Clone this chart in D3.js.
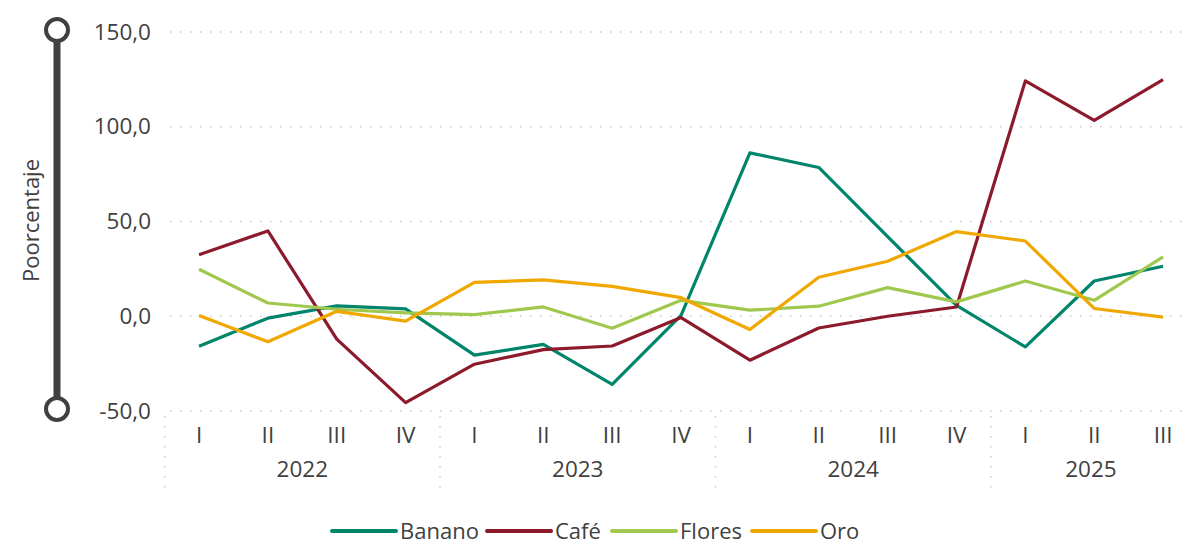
<!DOCTYPE html>
<html>
<head>
<meta charset="utf-8">
<script src="https://cdn.jsdelivr.net/npm/d3@7"></script>
<style>
  body { margin: 0; background: #fff; }
  text { font-family: "Open Sans", "Noto Sans", sans-serif; fill: #404040; }
</style>
</head>
<body>
<svg id="main" width="1186" height="543"></svg>
<script>
var years = ["2022", "2023", "2024", "2025"];
var quarters = ["I", "II", "III", "IV"];
var periods = [
  "2022-I","2022-II","2022-III","2022-IV",
  "2023-I","2023-II","2023-III","2023-IV",
  "2024-I","2024-II","2024-III","2024-IV",
  "2025-I","2025-II","2025-III"
];
var banano = [-15.8, -1.0, 5.5, 3.9, -20.5, -14.8, -36.0, 0.5, 86.2, 78.5, 42.0, 5.8, -16.2, 18.6, 26.4];
var cafe   = [32.5, 45.0, -12.1, -45.6, -25.3, -17.6, -15.7, -0.7, -23.2, -6.2, 0.0, 4.9, 124.2, 103.4, 124.9];
var flores = [24.8, 7.0, 3.7, 1.8, 0.9, 4.9, -6.3, 8.4, 3.2, 5.3, 15.1, 7.6, 18.6, 8.4, 31.3];
var oro    = [0.4, -13.5, 2.6, -2.6, 17.9, 19.2, 15.8, 9.8, -7.0, 20.6, 29.0, 44.7, 39.7, 4.1, -0.5];
var yTicks = [-50, 0, 50, 100, 150];

var series = [
  {name: "Banano", values: banano, color: "#00856a"},
  {name: "Café", values: cafe, color: "#8c1a2b"},
  {name: "Flores", values: flores, color: "#a0c84e"},
  {name: "Oro", values: oro, color: "#f0a800"}
];

var svg = d3.select("#main");
var fs = "22.5px";

var x = d3.scaleBand().domain(periods).range([164.6, 164.6 + 15 * 68.86]);
var y = d3.scaleLinear().domain([-50, 150]).range([411, 32]);
var fmt = function(v){ return d3.format(".1f")(v).replace(".", ",").replace("\u2212", "-"); };

// gridlines
svg.append("g").selectAll("line").data(yTicks).enter().append("line")
  .attr("x1", 170).attr("x2", 1182)
  .attr("y1", d => y(d)).attr("y2", d => y(d))
  .attr("stroke", "#c8c8c8").attr("stroke-width", 1.5)
  .attr("stroke-dasharray", "1.5 8.5");

// y labels
var yAxis = d3.axisLeft(y).tickValues(yTicks).tickFormat(fmt).tickSize(0).tickPadding(0);
var yg = svg.append("g").attr("transform", "translate(151,0)").call(yAxis);
yg.select(".domain").remove();
yg.selectAll("text").style("font-size", fs).attr("fill", "#404040")
  .style("font-family", '"Open Sans", "Noto Sans", sans-serif');

// decorative axis bar
svg.append("line").attr("x1", 57).attr("x2", 57).attr("y1", y(150) + 10).attr("y2", y(-50) - 10)
  .attr("stroke", "#404040").attr("stroke-width", 7);
svg.selectAll("circle.end").data([150, -50]).enter().append("circle")
  .attr("cx", 57).attr("cy", d => y(d) - 2).attr("r", 11)
  .attr("fill", "#fff").attr("stroke", "#404040").attr("stroke-width", 4);

svg.append("text")
  .attr("transform", "translate(39," + (y(50) - 1) + ") rotate(-90)")
  .attr("text-anchor", "middle")
  .style("font-size", "22px")
  .text("Poorcentaje");

// x labels
svg.append("g").selectAll("text").data(periods).enter().append("text")
  .attr("x", d => x(d) + x.bandwidth() / 2)
  .attr("y", 443)
  .attr("text-anchor", "middle")
  .style("font-size", fs)
  .text(d => d.split("-")[1]);

years.forEach(function(yr){
  var ps = periods.filter(p => p.indexOf(yr) === 0);
  var x0 = x(ps[0]), x1 = x(ps[ps.length - 1]) + x.bandwidth();
  svg.append("text").attr("x", yr === "2025" ? (x0 + x(ps[ps.length-1]) + x.bandwidth()/2) / 2 + 14 : (x0 + x1) / 2)
    .attr("y", 477).attr("text-anchor", "middle").style("font-size", fs).text(yr);
});

var seps = [0, 4, 8, 12].map(i => x(periods[i]));
svg.append("g").selectAll("line").data(seps).enter().append("line")
  .attr("x1", d => d).attr("x2", d => d).attr("y1", 416).attr("y2", 491)
  .attr("stroke", "#c8c8c8").attr("stroke-width", 1.5)
  .attr("stroke-dasharray", "1.5 8.5");

// lines
var line = d3.line()
  .x((d, i) => x(periods[i]) + x.bandwidth() / 2)
  .y(d => y(d));
svg.append("g").selectAll("path").data(series).enter().append("path")
  .attr("d", d => line(d.values))
  .attr("fill", "none")
  .attr("stroke", d => d.color)
  .attr("stroke-width", 3.2)
  .attr("stroke-linejoin", "round");

// legend
var legendX = [332, 487, 612, 752];
var lg = svg.append("g").selectAll("g").data(series).enter().append("g")
  .attr("transform", (d, i) => "translate(" + legendX[i] + ",531)");
lg.append("line").attr("x1", 0).attr("x2", 64).attr("stroke", d => d.color)
  .attr("stroke-width", 4).attr("stroke-linecap", "round");
lg.append("text").attr("x", 68).attr("y", 8).style("font-size", "22px").text(d => d.name);
</script>
</body>
</html>
